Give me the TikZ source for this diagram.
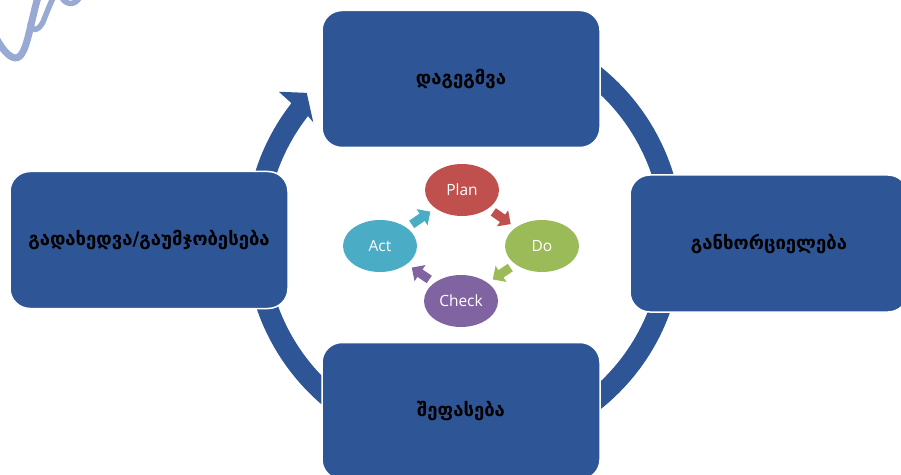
\documentclass[tikz,border=0pt]{standalone}
\usepackage{fontspec}
\setmainfont{Open Sans}
\newfontfamily\geofont{DejaVu Sans}
\usetikzlibrary{arrows.meta,shapes.geometric,positioning}

\definecolor{boxblue}{HTML}{2E5596}
\definecolor{planred}{HTML}{C0504D}
\definecolor{dogreen}{HTML}{9BBB59}
\definecolor{checkpurple}{HTML}{8064A2}
\definecolor{actcyan}{HTML}{4BACC6}
\definecolor{markblue}{HTML}{98AAD3}

\tikzset{
  stagebox/.style={draw=white, line width=1.5pt, fill=boxblue, rounded corners=20pt,
    minimum width=278pt, minimum height=137pt, inner sep=0pt,
    font=\geofont\bfseries\fontsize{18.5}{21}\selectfont},
  cyclenode/.style={ellipse, fill=#1, minimum width=74pt, minimum height=52pt,
    inner sep=0pt, text=white, font=\fontsize{15.5}{18}\selectfont},
  cyclearrow/.style={draw=#1, line width=9pt, -{Triangle[length=10pt,width=19pt]},
    shorten <=6pt, shorten >=6pt}
}

\begin{document}
\begin{tikzpicture}[x=1pt, y=1pt]
    \clip (0,0) rectangle (901,474);

    % watermark fragment
    \draw[markblue, line width=7pt, line cap=round] (-6,440) .. controls (4,420) and (14,412) .. (20,418) .. controls (28,426) and (31,455) .. (39,480);
    \draw[markblue, line width=5.5pt, line cap=round] (30,450) .. controls (31,443) and (38,442) .. (43,452) .. controls (47,462) and (50,470) .. (55,480);
    \draw[markblue, line width=5.5pt, line cap=round] (60,480) .. controls (64,469) and (74,467) .. (80,477);

    % ring arrow
    \begin{scope}[shift={(464,236)}]
        \fill[boxblue] (75:219) arc[start angle=75, end angle=-218, radius=219]
            -- (-218.3:236) -- (-222.7:214) -- (-217.5:190) -- (-218:198)
            arc[start angle=-218, end angle=75, radius=198] -- cycle;
    \end{scope}

    % stage boxes
    \node[stagebox] (planning) at (461,395) {დაგეგმვა};
    \node[stagebox] (doing) at (769,230.5) {განხორციელება};
    \node[stagebox] (checking) at (461,63) {შეფასება};
    \node[stagebox] (acting) at (149,234) {გადახედვა/გაუმჯობესება};

    % PDCA cycle
    \foreach \name/\x/\y/\col/\txt in {plan/462/284/planred/Plan, do/542/228/dogreen/Do,
        check/461/173/checkpurple/Check, act/380/228/actcyan/Act}
        \node[cyclenode=\col] (\name) at (\x,\y) {\txt};

    \foreach \a/\b/\col in {act/plan/actcyan, plan/do/planred, do/check/dogreen, check/act/checkpurple}
        \draw[cyclearrow=\col] (\a) -- (\b);
\end{tikzpicture}
\end{document}
